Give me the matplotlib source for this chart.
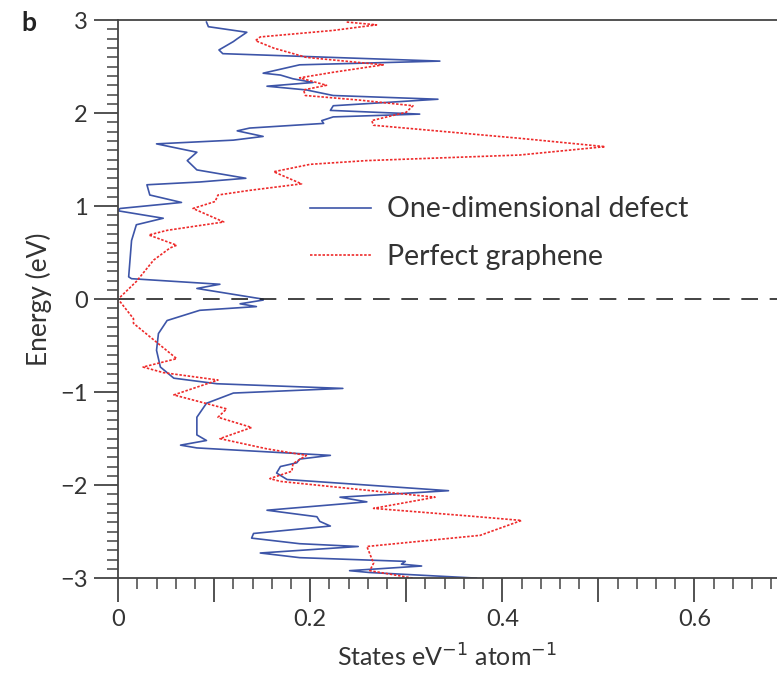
import matplotlib
matplotlib.use("Agg")
import matplotlib.pyplot as plt
from matplotlib.ticker import MultipleLocator, FuncFormatter

plt.rcParams['font.family'] = ['Lato', 'DejaVu Sans']

# One-dimensional defect DOS (energy in eV, states eV^-1 atom^-1)
defect_energy = [2.98, 2.93, 2.87, 2.80, 2.77, 2.68, 2.64, 2.56, 2.52, 2.43, 2.41, 2.37, 2.33,
                 2.29, 2.25, 2.19, 2.15, 2.08, 2.03, 1.99, 1.96, 1.92, 1.89, 1.84, 1.81, 1.75,
                 1.71, 1.67, 1.58, 1.49, 1.39, 1.30, 1.26, 1.23, 1.12, 1.04, 0.975, 0.95, 0.87,
                 0.80, 0.63, 0.24, 0.22, 0.16, 0.115, 0.00, -0.01, -0.05, -0.08, -0.12, -0.23,
                 -0.37, -0.55, -0.73, -0.85, -0.91, -0.96, -1.01, -1.12, -1.27, -1.46, -1.52,
                 -1.57, -1.60, -1.68, -1.72, -1.76, -1.80, -1.87, -1.94, -2.06, -2.13, -2.18,
                 -2.27, -2.34, -2.39, -2.44, -2.52, -2.57, -2.63, -2.66, -2.73, -2.78, -2.82,
                 -2.85, -2.87, -2.92, -2.94, -3.00]
defect_dos = [0.092, 0.094, 0.134, 0.124, 0.120, 0.105, 0.109, 0.335, 0.189, 0.151, 0.169, 0.182,
              0.203, 0.155, 0.196, 0.224, 0.333, 0.224, 0.221, 0.314, 0.224, 0.212, 0.214, 0.137,
              0.124, 0.151, 0.120, 0.040, 0.082, 0.072, 0.082, 0.133, 0.085, 0.030, 0.033, 0.066,
              0.002, 0.000, 0.047, 0.019, 0.014, 0.011, 0.014, 0.106, 0.082, 0.151, 0.151, 0.127,
              0.144, 0.085, 0.051, 0.042, 0.040, 0.044, 0.058, 0.103, 0.234, 0.120, 0.092, 0.082,
              0.082, 0.092, 0.065, 0.082, 0.221, 0.189, 0.186, 0.169, 0.165, 0.176, 0.344, 0.231,
              0.259, 0.155, 0.207, 0.210, 0.221, 0.141, 0.139, 0.189, 0.250, 0.148, 0.189, 0.299,
              0.295, 0.316, 0.241, 0.262, 0.373]

# Perfect graphene DOS
graphene_energy = [2.98, 2.95, 2.89, 2.82, 2.78, 2.70, 2.60, 2.52, 2.44, 2.38, 2.30, 2.25, 2.19,
                   2.14, 2.08, 2.01, 1.92, 1.87, 1.73, 1.64, 1.55, 1.49, 1.45, 1.37, 1.24, 1.17,
                   1.12, 1.05, 0.975, 0.83, 0.74, 0.69, 0.58, 0.55, 0.42, 0.19, 0.00, -0.21,
                   -0.26, -0.64, -0.73, -0.79, -0.87, -1.03, -1.18, -1.27, -1.38, -1.50, -1.61,
                   -1.68, -1.77, -1.85, -1.93, -1.96, -2.13, -2.25, -2.33, -2.38, -2.54, -2.66,
                   -2.84, -2.92, -3.00]
graphene_dos = [0.238, 0.269, 0.224, 0.148, 0.143, 0.162, 0.196, 0.276, 0.224, 0.189, 0.217, 0.193,
                0.195, 0.252, 0.307, 0.300, 0.264, 0.266, 0.418, 0.507, 0.418, 0.259, 0.200, 0.162,
                0.191, 0.137, 0.104, 0.101, 0.078, 0.110, 0.051, 0.032, 0.061, 0.054, 0.037, 0.019,
                0.000, 0.016, 0.016, 0.061, 0.026, 0.047, 0.104, 0.058, 0.113, 0.104, 0.139, 0.106,
                0.155, 0.196, 0.182, 0.181, 0.158, 0.169, 0.330, 0.266, 0.363, 0.420, 0.377, 0.259,
                0.266, 0.262, 0.307]

series_labels = ["One-dimensional defect", "Perfect graphene"]
x_label = "States eV$^{-1}$ atom$^{-1}$"
y_label = "Energy (eV)"
panel_label = "b"

fig = plt.figure(figsize=(7.77, 6.73), dpi=100)
ax = fig.add_axes([0.152, 0.141, 0.848, 0.829])

l1, = ax.plot(defect_dos, defect_energy, color='#3d55a8', lw=1.2, label=series_labels[0])
l2, = ax.plot(graphene_dos, graphene_energy, color='#ee2a2a', lw=1.2,
              linestyle=(0, (1.5, 1.0)), label=series_labels[1])
ax.axhline(0, color='#222222', lw=1.2, dashes=(10, 7))

ax.set_xlim(0, 0.686)
ax.set_ylim(-3, 3)

ax.spines['right'].set_visible(False)
for s in ['left', 'bottom', 'top']:
    ax.spines[s].set_color('#444444')
    ax.spines[s].set_linewidth(1.3)

ax.xaxis.set_major_locator(MultipleLocator(0.1))
ax.xaxis.set_minor_locator(MultipleLocator(0.02))
ax.yaxis.set_major_locator(MultipleLocator(1))
ax.yaxis.set_minor_locator(MultipleLocator(0.1))

def xfmt(v, pos):
    k = int(round(v * 10))
    if k % 2 == 0:
        return '0' if k == 0 else f'{v:.1f}'
    return ''

def yfmt(v, pos):
    k = int(round(v))
    return f'\u2212{abs(k)}' if k < 0 else f'{k}'

ax.xaxis.set_major_formatter(FuncFormatter(xfmt))
ax.yaxis.set_major_formatter(FuncFormatter(yfmt))

ax.tick_params(which='major', direction='out', length=17, width=1.3, color='#444444',
               labelsize=17, labelcolor='#333333', pad=5)
ax.tick_params(which='minor', direction='out', length=8, width=1.1, color='#444444')
ax.tick_params(top=False, right=False)

ax.set_xlabel(x_label, fontsize=18, color='#333333', labelpad=10)
ax.set_ylabel(y_label, fontsize=19, color='#333333', labelpad=6)

leg = ax.legend(handles=[l1, l2], loc='upper left', bbox_to_anchor=(0.291, 0.684),
                frameon=False, fontsize=20.5, handlelength=2.15, handletextpad=0.55,
                labelspacing=0.75, borderpad=0, borderaxespad=0, labelcolor='#333333')

fig.text(0.028, 0.966, panel_label, fontsize=19, fontweight='bold', color='#222222',
         ha='left', va='center')

fig.savefig('out.png', dpi=100)
